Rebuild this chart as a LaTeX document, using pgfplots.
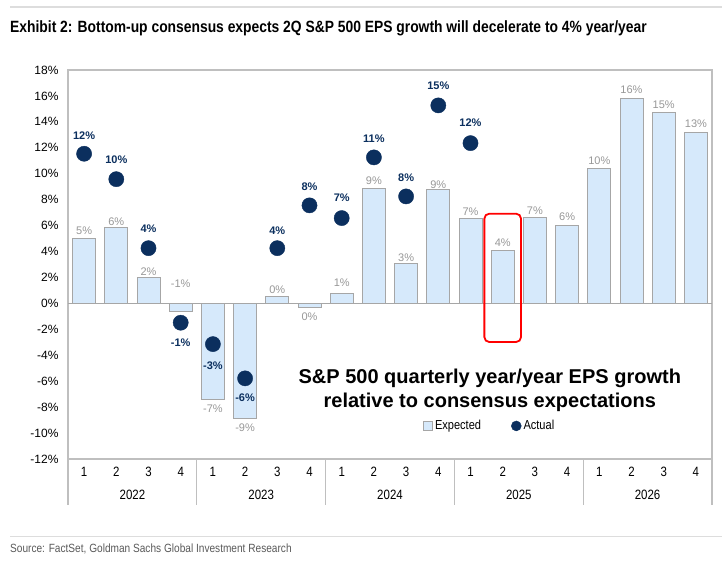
\documentclass[border=0pt]{standalone}
\usepackage{fontspec}
\setmainfont{Liberation Sans}
\newfontfamily\cond[FakeStretch=0.85]{Liberation Sans}
\usepackage{pgfplots}
\pgfplotsset{compat=1.18}
\definecolor{barblue}{HTML}{D6E9FB}
\definecolor{bargray}{HTML}{A6A6A6}
\definecolor{navy}{HTML}{0B2F5E}
\definecolor{lblgray}{HTML}{979797}
\definecolor{framegray}{HTML}{BFBFBF}
\definecolor{rulegray}{HTML}{DDDDDD}

\pgfplotstableread{
x y
0 4.99
1 5.84
2 1.98
3 -0.62
4 -7.40
5 -8.84
6 0.52
7 -0.33
8 0.75
9 8.89
10 3.11
11 8.77
12 6.53
13 4.09
14 6.63
15 5.99
16 10.39
17 15.78
18 14.75
19 13.18
}\expected

\pgfplotstableread{
x ly t
0 5.6 5
1 6.3 6
2 2.44 2
3 1.52 -1
4 -8.1 -7
5 -9.6 -9
6 1.06 0
7 -1.06 0
8 1.62 1
9 9.43 9
10 3.55 3
11 9.17 9
12 7.04 7
13 4.68 4
14 7.14 7
15 6.7 6
16 11.0 10
17 16.48 16
18 15.34 15
19 13.88 13
}\explabels

\pgfplotstableread{
x y
0 11.54
1 9.58
2 4.26
3 -1.49
4 -3.14
5 -5.78
6 4.26
7 7.56
8 6.58
9 11.26
10 8.25
11 15.27
12 12.36
}\actual

\pgfplotstableread{
x ly t
0 12.9 12
1 11.1 10
2 5.76 4
3 -3.06 -1
4 -4.8 -3
5 -7.3 -6
6 5.57 4
7 9.0 8
8 8.12 7
9 12.7 11
10 9.7 8
11 16.8 15
12 13.9 12
}\actlabels

\begin{document}
\begin{tikzpicture}
\useasboundingbox (0,0) rectangle (722pt,563pt);
\draw[rulegray, line width=1.5pt] (10pt,556pt) -- (722pt,556pt);
\node[anchor=west, inner sep=0] at (10pt,535pt) {\cond\bfseries\fontsize{16.3}{18}\selectfont Exhibit 2: Bottom-up consensus expects 2Q S\&P 500 EPS growth will decelerate to 4\% year/year};
\draw[rulegray, line width=1pt] (10pt,27pt) -- (722pt,27pt);
\node[anchor=west, inner sep=0, text=black!65] at (10pt,14pt) {\cond\fontsize{11.9}{13}\selectfont Source: FactSet, Goldman Sachs Global Investment Research};
\begin{axis}[
  at={(68pt,104pt)}, anchor=south west,
  scale only axis, width=644pt, height=389pt,
  xmin=-0.5, xmax=19.5, ymin=-12, ymax=18,
  clip=false,
  axis line style={framegray, line width=1.2pt},
  major tick length=0pt,
  ytick={-12,-10,...,18},
  yticklabel={\pgfmathprintnumber{\tick}\%},
  /pgf/number format/assume math mode=true,
  yticklabel style={font=\fontsize{12}{14}\selectfont, xshift=-6pt},
  xtick={0,...,19},
  xticklabels={1,2,3,4,1,2,3,4,1,2,3,4,1,2,3,4,1,2,3,4},
  xticklabel style={font=\cond\fontsize{13.5}{15}\selectfont, yshift=-5pt},
  legend style={at={(0.655,0.085)}, anchor=center, draw=none, fill=none,
    legend columns=2, font=\cond\fontsize{13}{14}\selectfont,
    /tikz/every even column/.append style={column sep=28pt}},
  legend cell align=left,
]
\addplot[ybar, bar width=23pt, bar shift=0pt, fill=barblue, draw=bargray, line width=1pt,
  legend image code/.code={\draw[fill=barblue, draw=bargray, line width=0.6pt] (0pt,-4.5pt) rectangle (9pt,4.5pt);}]
  table[x=x, y=y] {\expected};
\addlegendentry{Expected}
\addplot[only marks, mark=*, mark size=7.6pt, navy,
  legend image code/.code={\fill[navy] (4.5pt,0pt) circle (5pt);}]
  table[x=x, y=y] {\actual};
\addlegendentry{Actual}
\addplot[forget plot, draw=none, mark=none, point meta=explicit symbolic,
  nodes near coords={\pgfplotspointmeta\%},
  nodes near coords style={anchor=center, inner sep=0pt, text=lblgray, font=\fontsize{11}{12}\selectfont}]
  table[x=x, y=ly, meta=t] {\explabels};
\addplot[forget plot, draw=none, mark=none, point meta=explicit symbolic,
  nodes near coords={\pgfplotspointmeta\%},
  nodes near coords style={anchor=center, inner sep=0pt, text=navy, font=\bfseries\fontsize{11}{12}\selectfont}]
  table[x=x, y=ly, meta=t] {\actlabels};
\draw[bargray, line width=1pt] (axis cs:-0.5,0) -- (axis cs:19.5,0);
\draw[red, line width=1.8pt, rounded corners=5pt] (axis cs:12.43,6.92) rectangle (axis cs:13.57,-2.98);
\node[align=center, font=\bfseries\fontsize{20}{24}\selectfont] at (rel axis cs:0.655,0.177)
  {S\&P 500 quarterly year/year EPS growth\\relative to consensus expectations};
\draw[framegray, line width=1.2pt] (axis cs:-0.5,-12) -- ++(0pt,-46pt);
\draw[framegray, line width=1.2pt] (axis cs:3.5,-12) -- ++(0pt,-46pt);
\draw[framegray, line width=1.2pt] (axis cs:7.5,-12) -- ++(0pt,-46pt);
\draw[framegray, line width=1.2pt] (axis cs:11.5,-12) -- ++(0pt,-46pt);
\draw[framegray, line width=1.2pt] (axis cs:15.5,-12) -- ++(0pt,-46pt);
\draw[framegray, line width=1.2pt] (axis cs:19.5,-12) -- ++(0pt,-46pt);
\node[font=\cond\fontsize{13.5}{15}\selectfont] at (axis cs:1.5,-12) [yshift=-36pt] {2022};
\node[font=\cond\fontsize{13.5}{15}\selectfont] at (axis cs:5.5,-12) [yshift=-36pt] {2023};
\node[font=\cond\fontsize{13.5}{15}\selectfont] at (axis cs:9.5,-12) [yshift=-36pt] {2024};
\node[font=\cond\fontsize{13.5}{15}\selectfont] at (axis cs:13.5,-12) [yshift=-36pt] {2025};
\node[font=\cond\fontsize{13.5}{15}\selectfont] at (axis cs:17.5,-12) [yshift=-36pt] {2026};
\end{axis}
\end{tikzpicture}
\end{document}
